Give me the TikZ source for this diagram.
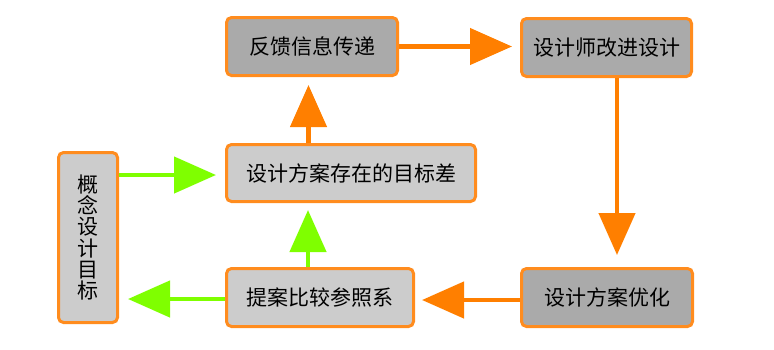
\documentclass[tikz,border=0pt]{standalone}
\usepackage{fontspec}
\setmainfont{Noto Sans CJK SC}
\usepackage{xcolor}
\definecolor{fkorange}{RGB}{255,127,0}
\definecolor{fkborder}{RGB}{255,140,30}
\definecolor{fkgreen}{RGB}{127,255,0}
\definecolor{fkdark}{RGB}{170,170,170}
\definecolor{fklight}{RGB}{204,204,204}
\usepackage{tikz}
\usetikzlibrary{arrows.meta, positioning, calc}

\tikzset{
  box/.style={draw=fkborder, line width=3pt, rounded corners=5pt, text=black,
    font=\fontsize{21}{21.3}\selectfont, inner sep=0pt},
  darkbox/.style={box, fill=fkdark},
  lightbox/.style={box, fill=fklight},
  oarrow/.style={draw=fkorange, line width=4.5pt,
    -{Triangle[length=42pt, width=36pt]}},
  garrow/.style={draw=fkgreen, line width=4.5pt,
    -{Triangle[length=42pt, width=36pt]}}
}

\begin{document}
\begin{tikzpicture}[x=1pt, y=-1pt]
  \useasboundingbox (0,0) rectangle (774,349);

  % --- Boxes ---
  \node[darkbox, minimum width=171pt, minimum height=58pt] (fankui) at (312,46.5) {反馈信息传递};
  \node[darkbox, minimum width=170pt, minimum height=58pt] (gaijin) at (606.5,47.5) {设计师改进设计};
  \node[lightbox, minimum width=249pt, minimum height=57pt] (mubiaocha) at (351,173) {设计方案存在的目标差};
  \node[lightbox, minimum width=59pt, minimum height=170pt, align=center] (gainian) at (88,237.5) {概\\念\\设\\计\\目\\标};
  \node[lightbox, minimum width=187pt, minimum height=58pt] (tian) at (320,297.5) {提案比较参照系};
  \node[darkbox, minimum width=171pt, minimum height=58pt] (youhua) at (607,297.5) {设计方案优化};

  % --- Orange loop ---
  \draw[oarrow, shorten >=8pt] (fankui.east) -- (fankui.east -| gaijin.west);
  \draw[oarrow, shorten >=12pt] ([xshift=10.5pt]gaijin.south) -- ([xshift=10.5pt]gaijin.south |- youhua.north);
  \draw[oarrow, shorten >=7pt] ([yshift=-2.5pt]youhua.west) -- ([yshift=-2.5pt]youhua.west -| tian.east);
  \draw[oarrow, shorten >=8pt] ([xshift=-42.5pt]mubiaocha.north) -- ([xshift=-42.5pt]mubiaocha.north |- fankui.south);

  % --- Green arrows ---
  \draw[garrow, shorten >=7pt] ([xshift=-12pt]tian.north) -- ([xshift=-12pt]tian.north |- mubiaocha.south);
  \draw[garrow, shorten >=9pt] ([yshift=62.5pt]gainian.east) -- ([yshift=62.5pt]gainian.east -| mubiaocha.west);
  \draw[garrow, shorten >=9pt] ([yshift=-1.5pt]tian.west) -- ([yshift=-1.5pt]tian.west -| gainian.east);
\end{tikzpicture}
\end{document}
